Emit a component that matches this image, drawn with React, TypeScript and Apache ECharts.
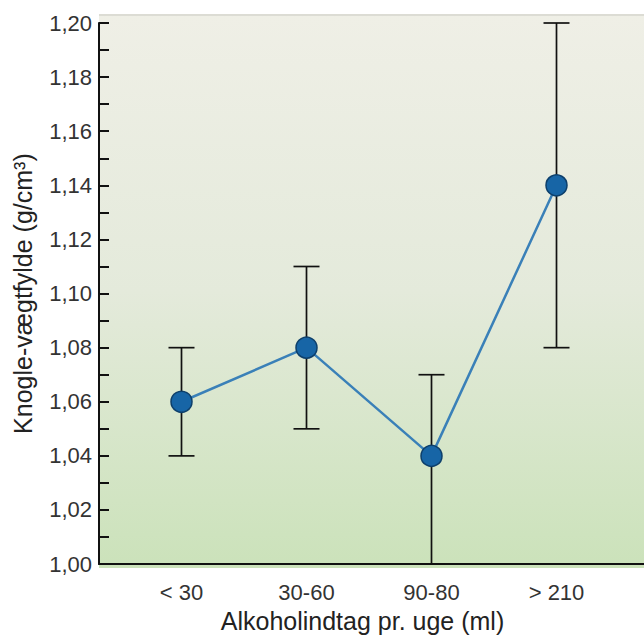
import React, { useEffect, useRef } from "react";
import * as echarts from "echarts";

const categories = ["< 30", "30-60", "90-80", "> 210"];
const means = [1.06, 1.08, 1.04, 1.14];
const lows = [1.04, 1.05, 1.0, 1.08];
const highs = [1.08, 1.11, 1.07, 1.2];

const FONT = "'Liberation Sans', Arial, sans-serif";

export default function App() {
  const ref = useRef<HTMLDivElement>(null);
  useEffect(() => {
    if (!ref.current) return;
    const chart = echarts.init(ref.current, null, { renderer: "svg" });
    const lineData = means.map((m, i) => [i, m]);
    const errData = means.map((_, i) => [i, lows[i], highs[i]]);
    chart.setOption({
      animation: false,
      backgroundColor: "#ffffff",
      textStyle: { fontFamily: FONT },
      graphic: [
        {
          type: "rect",
          z: -10,
          silent: true,
          shape: { x: 99, y: 15, width: 545, height: 553 },
          style: {
            fill: new echarts.graphic.LinearGradient(0, 0, 0, 1, [
              { offset: 0, color: "#efefe6" },
              { offset: 0.5, color: "#e4eadb" },
              { offset: 1, color: "#cbe2ba" },
            ]),
          },
        },
        {
          type: "line",
          z: -9,
          silent: true,
          shape: { x1: 99, y1: 15, x2: 644, y2: 15 },
          style: { stroke: "#dcdcd4", lineWidth: 2 },
        },
      ],
      grid: { left: 99, right: 0, top: 23, bottom: 70, containLabel: false },
      xAxis: {
        type: "value",
        min: -0.66,
        max: 3.7,
        name: "Alkoholindtag pr. uge (ml)",
        nameLocation: "middle",
        nameGap: 31,
        nameTextStyle: {
          fontSize: 25,
          color: "#222",
          fontFamily: FONT,
          padding: [0, 18, 0, 0],
        },
        axisLine: { show: true, onZero: false, lineStyle: { color: "#111", width: 2 } },
        axisTick: { show: false },
        splitLine: { show: false },
        axisLabel: {
          customValues: [0, 1, 2, 3],
          formatter: (v: number) => categories[Math.round(v)] ?? "",
          fontSize: 22,
          color: "#333",
          margin: 17,
          fontFamily: FONT,
        },
      },
      yAxis: {
        type: "value",
        min: 1.0,
        max: 1.2,
        interval: 0.02,
        name: "Knogle-vægtfylde (g/cm³)",
        nameLocation: "middle",
        nameGap: 64,
        nameTextStyle: { fontSize: 25, color: "#222", fontFamily: FONT },
        axisLine: { show: true, onZero: false, lineStyle: { color: "#111", width: 2 } },
        axisTick: { show: true, inside: true, length: 10, lineStyle: { color: "#111", width: 2 } },
        minorTick: { show: true, splitNumber: 2, length: 10, lineStyle: { color: "#111", width: 2 } },
        splitLine: { show: false },
        minorSplitLine: { show: false },
        axisLabel: {
          formatter: (v: number) => v.toFixed(2).replace(".", ","),
          fontSize: 22,
          color: "#333",
          margin: 7,
          fontFamily: FONT,
        },
      },
      series: [
        {
          type: "custom",
          z: 2,
          data: errData,
          renderItem: (params: any, api: any) => {
            const x = api.value(0);
            const lo = api.coord([x, api.value(1)]);
            const hi = api.coord([x, api.value(2)]);
            const half = 13;
            const style = { stroke: "#111", lineWidth: 1.7 };
            return {
              type: "group",
              children: [
                { type: "line", shape: { x1: lo[0], y1: lo[1], x2: hi[0], y2: hi[1] }, style },
                { type: "line", shape: { x1: lo[0] - half, y1: lo[1], x2: lo[0] + half, y2: lo[1] }, style },
                { type: "line", shape: { x1: hi[0] - half, y1: hi[1], x2: hi[0] + half, y2: hi[1] }, style },
              ],
            };
          },
        },
        {
          type: "line",
          z: 3,
          data: lineData,
          symbol: "circle",
          symbolSize: 21,
          lineStyle: { color: "#3a80b8", width: 2.5 },
          itemStyle: { color: "#1765a6", borderColor: "#0d3f6b", borderWidth: 1.5 },
        },
      ],
    });
    return () => chart.dispose();
  }, []);
  return (
    <div
      ref={ref}
      style={{ position: "fixed", left: 0, top: 0, width: 644, height: 638 }}
    />
  );
}
